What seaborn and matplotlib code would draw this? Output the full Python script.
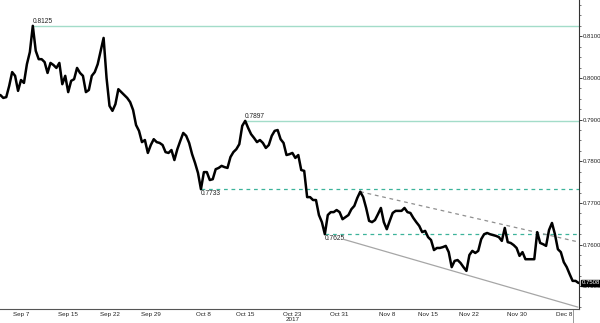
import numpy as np
import pandas as pd
import matplotlib
matplotlib.use("Agg")
import matplotlib.pyplot as plt
import seaborn as sns
from matplotlib.ticker import FixedLocator, FixedFormatter, MultipleLocator

# ---------------- data ----------------
series_start = "2017-09-03 12:00"
series_step = "12h"
close = [
    0.7959, 0.7952, 0.7954, 0.7981, 0.8014, 0.8005, 0.7969, 0.7995, 0.7988, 0.8033,
    0.8062, 0.8125, 0.8065, 0.8045, 0.8045, 0.8038, 0.8012, 0.8036, 0.8031, 0.8024,
    0.8036, 0.7985, 0.8005, 0.7966, 0.7993, 0.7997, 0.8024, 0.8012, 0.8005, 0.7966,
    0.7971, 0.8005, 0.8014, 0.8033, 0.8065, 0.8096, 0.8000, 0.7933, 0.7921, 0.7937,
    0.7973, 0.7966, 0.7959, 0.7952, 0.7942, 0.7923, 0.7887, 0.7873, 0.7846, 0.7851,
    0.7820, 0.7839, 0.7853, 0.7846, 0.7844, 0.7839, 0.7822, 0.7820, 0.7827, 0.7803,
    0.7829, 0.7849, 0.7868, 0.7861, 0.7844, 0.7817, 0.7796, 0.7772, 0.7733, 0.7774,
    0.7774, 0.7755, 0.7757, 0.7781, 0.7784, 0.7789, 0.7786, 0.7784, 0.7810, 0.7822,
    0.7829, 0.7841, 0.7885, 0.7897, 0.7880, 0.7865, 0.7856, 0.7846, 0.7851, 0.7844,
    0.7832, 0.7839, 0.7861, 0.7873, 0.7875, 0.7853, 0.7844, 0.7815, 0.7817, 0.7820,
    0.7808, 0.7815, 0.7779, 0.7777, 0.7714, 0.7714, 0.7707, 0.7707, 0.7671, 0.7654,
    0.7625, 0.7671, 0.7678, 0.7678, 0.7683, 0.7678, 0.7661, 0.7666, 0.7671, 0.7685,
    0.7693, 0.7712, 0.7727, 0.7714, 0.7688, 0.7657, 0.7654, 0.7659, 0.7673, 0.7688,
    0.7654, 0.7637, 0.7657, 0.7676, 0.7681, 0.7681, 0.7681, 0.7688, 0.7678, 0.7676,
    0.7664, 0.7654, 0.7645, 0.7630, 0.7633, 0.7618, 0.7611, 0.7587, 0.7592, 0.7592,
    0.7594, 0.7597, 0.7582, 0.7546, 0.7561, 0.7563, 0.7556, 0.7546, 0.7537, 0.7575,
    0.7585, 0.7580, 0.7585, 0.7613, 0.7625, 0.7628, 0.7625, 0.7623, 0.7621, 0.7618,
    0.7609, 0.7640, 0.7606, 0.7604, 0.7599, 0.7592, 0.7573, 0.7582, 0.7565, 0.7565,
    0.7565, 0.7565, 0.7630, 0.7604, 0.7601, 0.7597, 0.7635, 0.7652, 0.7625, 0.7589,
    0.7582, 0.7558, 0.7546, 0.7529, 0.7513, 0.7513, 0.7508,
]

tick_dates = ["2017-09-07", "2017-09-15", "2017-09-22", "2017-09-29", "2017-10-08",
              "2017-10-15", "2017-10-23", "2017-10-31", "2017-11-08", "2017-11-15",
              "2017-11-22", "2017-11-30", "2017-12-08"]
tick_labels = ["Sep 7", "Sep 15", "Sep 22", "Sep 29", "Oct 8", "Oct 15", "Oct 23\n2017",
               "Oct 31", "Nov 8", "Nov 15", "Nov 22", "Nov 30", "Dec 8"]

y_ticks = [0.7500, 0.7600, 0.7700, 0.7800, 0.7900, 0.8000, 0.8100]

solid_levels = [0.8125, 0.7897]
dashed_levels = [0.7733, 0.7625]

resist_dates = ["2017-11-03 12:00", "2017-12-10 14:24"]
resist_vals = [0.7727, 0.7606]
support_dates = ["2017-10-31 14:24", "2017-12-10 09:36"]
support_vals = [0.7613, 0.7450]

last_price = 0.7508

x_range = ["2017-09-03 10:34", "2017-12-10 13:55"]
y_range = [0.74455, 0.8187]

# ---------------- figure ----------------
sns.set_style("white")
plt.rcParams["font.family"] = ["Liberation Sans", "DejaVu Sans"]

df = pd.DataFrame({
    "time": pd.date_range(series_start, periods=len(close), freq=series_step),
    "close": close,
})

fig = plt.figure(figsize=(6.0, 3.23), dpi=100)
ax = fig.add_axes([0.0, 0.0433, 0.965, 0.9567])

sns.lineplot(data=df, x="time", y="close", color="black", linewidth=1.8, ax=ax,
             zorder=5)

xmin, xmax = pd.Timestamp(x_range[0]), pd.Timestamp(x_range[1])
ax.set_xlim(xmin, xmax)
ax.set_ylim(*y_range)

label_kw = dict(fontsize=4.8, color="#222222")
for lvl in solid_levels:
    t0 = df["time"][df["close"] == lvl].iloc[0]
    ax.hlines(lvl, t0, xmax, colors="#a3dcc9", linewidth=1.0, zorder=2)
    ax.text(t0, lvl + 0.0002, f"{lvl:.4f}", ha="left", va="bottom", **label_kw)
for lvl in dashed_levels:
    t0 = df["time"][df["close"] == lvl].iloc[0]
    ax.hlines(lvl, t0, xmax, colors="#3cb39a", linewidth=0.9,
              linestyles=(0, (3, 3)), zorder=2)
    ax.text(t0, lvl - 0.0003, f"{lvl:.4f}", ha="left", va="top", **label_kw)

ax.plot(pd.to_datetime(resist_dates), resist_vals, color="#8f8f8f", linewidth=0.9,
        linestyle=(0, (3, 3)), zorder=3)
ax.plot(pd.to_datetime(support_dates), support_vals, color="#a6a6a6", linewidth=0.9,
        zorder=3)

# axes styling
for side in ["left", "top"]:
    ax.spines[side].set_visible(False)
ax.spines["right"].set_color("#333333")
ax.spines["right"].set_linewidth(0.8)
ax.spines["bottom"].set_color("#555555")
ax.spines["bottom"].set_linewidth(0.8)

ax.yaxis.tick_right()
ax.yaxis.set_major_locator(FixedLocator(y_ticks))
ax.yaxis.set_major_formatter(FixedFormatter([f"{v:.4f}" for v in y_ticks]))
ax.yaxis.set_minor_locator(MultipleLocator(0.0025))
ax.tick_params(axis="y", which="major", length=2, width=0.6, pad=0.6,
               labelsize=4.3, colors="#222222")
ax.tick_params(axis="y", which="minor", length=1.5, width=0.5, color="#444444")

tick_pos = pd.to_datetime(tick_dates)
ax.xaxis.set_major_locator(FixedLocator(matplotlib.dates.date2num(tick_pos)))
ax.xaxis.set_major_formatter(FixedFormatter(tick_labels))
ax.xaxis.set_minor_locator(matplotlib.dates.DayLocator(interval=2))
ax.tick_params(axis="x", which="major", length=2, width=0.6, pad=0.8,
               labelsize=4.5, colors="#222222", direction="inout")
ax.tick_params(axis="x", which="minor", length=2, width=0.5, color="#666666",
               direction="inout")
for lab in ax.get_xticklabels():
    lab.set_linespacing(1.1)
ax.set_xlabel("")
ax.set_ylabel("")

# last price box
ax.annotate(f"{last_price:.4f}", xy=(1.0, last_price), xycoords=("axes fraction", "data"),
            xytext=(2.2, 0), textcoords="offset points", ha="left", va="center",
            fontsize=4.3, color="white", zorder=10, annotation_clip=False,
            bbox=dict(boxstyle="square,pad=0.12", fc="black", ec="black"))

# small marker line below axis at last bar
ax.axvline(pd.Timestamp("2017-12-09 13:00"), ymin=-0.045, ymax=0.0, color="#888888",
           linewidth=0.6, clip_on=False)

fig.savefig("out.png", dpi=100)
